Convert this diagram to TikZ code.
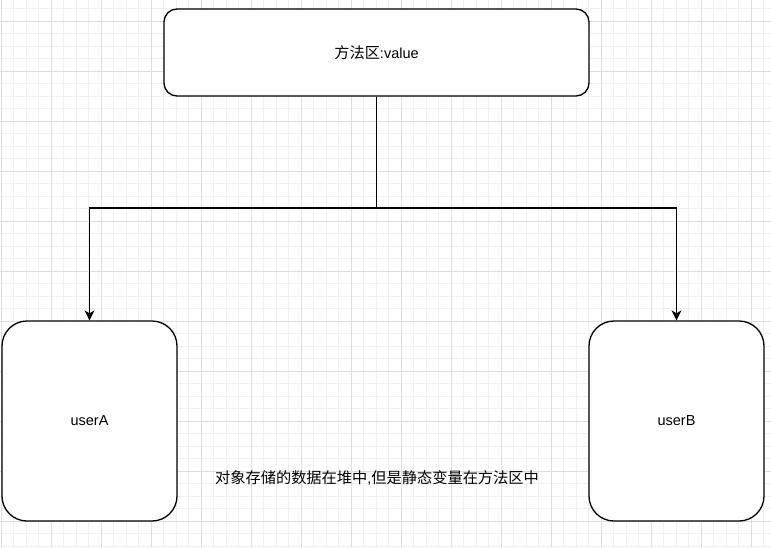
\documentclass[tikz,border=0pt]{standalone}
\usepackage{fontspec}
\setmainfont{Liberation Sans}
\newfontfamily\cjk{Noto Sans CJK SC}[Scale=1.05]
\usetikzlibrary{arrows.meta}

\begin{document}
\begin{tikzpicture}[
    x=1pt,
    y=-1pt,
    rejilla/.style={draw=black!6, line width=0.8pt},
    rejillamayor/.style={draw=black!13, line width=0.8pt},
    caja/.style={draw, fill=white, line width=1.3pt, rectangle, inner sep=0pt},
    flecha/.style={line width=1.3pt, -{Stealth[length=10pt, width=10pt, inset=3pt]}},
    texto/.style={font=\fontsize{14.5}{17}\selectfont}
]
\useasboundingbox (0,0) rectangle (771,547);

% Rejilla de fondo
\foreach \gx in {1,13.5,...,771}
    \draw[rejilla] (\gx,0) -- (\gx,547);
\foreach \gy in {8.5,21,...,547}
    \draw[rejilla] (0,\gy) -- (771,\gy);
\foreach \gx in {1,51,...,771}
    \draw[rejillamayor] (\gx,0) -- (\gx,547);
\foreach \gy in {21,71,...,547}
    \draw[rejillamayor] (0,\gy) -- (771,\gy);

% Cajas
\node[caja, texto, rounded corners=13pt, minimum width=425pt, minimum height=87pt]
    (fangfa) at (376.5,52.5) {{\cjk 方法区}:value};
\node[caja, texto, rounded corners=25pt, minimum width=175pt, minimum height=200pt]
    (userA) at (89.5,421) {userA};
\node[caja, texto, rounded corners=25pt, minimum width=175pt, minimum height=200pt]
    (userB) at (676.5,421) {userB};

% Conectores
\coordinate (rama) at (fangfa.south |- 0,208);
\draw[line width=1.3pt] (fangfa.south) -- (rama);
\draw[flecha] (rama) -| (userA.north);
\draw[flecha] (rama) -| (userB.north);

% Nota
\node[texto] (nota) at (377,478) {{\cjk 对象存储的数据在堆中},{\cjk 但是静态变量在方法区中}};

\end{tikzpicture}
\end{document}
